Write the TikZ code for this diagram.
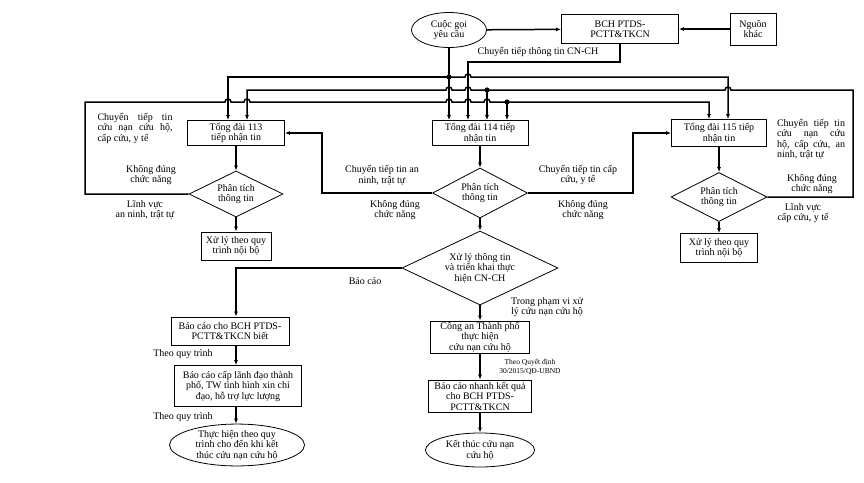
\documentclass[tikz,border=0pt]{standalone}
\usepackage{fontspec}
\setmainfont{Liberation Serif}
\usetikzlibrary{shapes.geometric,arrows.meta}

\begin{document}
\begin{tikzpicture}[x=1pt,y=-1pt,
	font=\fontsize{10}{10.5}\selectfont,
	>={Latex[length=5pt,width=4pt]},
	box/.style={draw,line width=0.8pt,align=center,inner sep=1pt},
	dia/.style={draw,diamond,aspect=2,line width=0.8pt,align=center,inner sep=0pt},
	oval/.style={draw,ellipse,line width=0.8pt,align=center,inner sep=0pt},
	lbl/.style={align=center,inner sep=0pt},
	conn/.style={line width=1.5pt}]
	\useasboundingbox (0,0) rectangle (864,482);

	% Top row
	\node[oval,minimum width=75pt,minimum height=35pt] (call) at (449,30) {Cuộc gọi\\yêu cầu};
	\node[box,minimum width=117pt,minimum height=29pt] (bch) at (620,29) {BCH PTDS-\\PCTT\&TKCN};
	\node[box,minimum width=46pt,minimum height=32pt] (other) at (753,29) {Nguồn\\khác};

	% Switchboards
	\node[box,minimum width=97pt,minimum height=25pt] (t113) at (236,133) {Tổng đài 113\\tiếp nhận tin};
	\node[box,minimum width=96pt,minimum height=25pt] (t114) at (480,133) {Tổng đài 114 tiếp\\nhận tin};
	\node[box,minimum width=95pt,minimum height=27pt] (t115) at (719,133) {Tổng đài 115 tiếp\\nhận tin};

	% Analysis
	\node[dia,minimum width=94pt,minimum height=46pt] (a113) at (236,194) {Phân tích\\thông tin};
	\node[dia,minimum width=95pt,minimum height=50pt] (a114) at (480,193) {Phân tích\\thông tin};
	\node[dia,minimum width=96pt,minimum height=49pt] (a115) at (719,197) {Phân tích\\thông tin};

	% Internal handling
	\node[box,minimum width=70pt,minimum height=28pt] (p113) at (236,246) {Xử lý theo quy\\trình nội bộ};
	\node[box,minimum width=77pt,minimum height=29pt] (p115) at (719,248) {Xử lý theo quy\\trình nội bộ};

	% Main decision
	\node[dia,minimum width=156pt,minimum height=74pt] (main) at (480,268) {Xử lý thông tin\\và triển khai thực\\hiện CN-CH};

	% Left branch
	\node[box,minimum width=118pt,minimum height=28pt] (rep) at (230,331) {Báo cáo cho BCH PTDS-\\PCTT\&TKCN biết};
	\node[box,minimum width=127pt,minimum height=41pt] (lead) at (238,386) {Báo cáo cấp lãnh đạo thành\\phố, TW tình hình xin chỉ\\đạo, hỗ trợ lực lượng};
	\node[oval,minimum width=135pt,minimum height=40pt] (done) at (237,445) {Thực hiện theo quy\\trình cho đến khi kết\\thúc cứu nạn cứu hộ};

	% Middle branch
	\node[box,minimum width=99pt,minimum height=32pt] (police) at (480,337) {Công an Thành phố\\thực hiện\\cứu nạn cứu hộ};
	\node[box,minimum width=103pt,minimum height=32pt] (quick) at (480,396) {Báo cáo nhanh kết quả\\cho BCH PTDS-\\PCTT\&TKCN};
	\node[oval,minimum width=109pt,minimum height=34pt] (fin) at (480,450) {Kết thúc cứu nạn\\cứu hộ};

	% Labels
	\node[lbl] (l1) at (538,52) {Chuyển tiếp thông tin CN-CH};
	\node[lbl,text width=75pt,align=justify] (l2) at (135,128) {Chuyển tiếp tin\linebreak cứu nạn cứu hộ,\linebreak cấp cứu, y tế};
	\node[lbl] (l3) at (151,175) {Không đúng\\chức năng};
	\node[lbl] (l4) at (145,210) {Lĩnh vực\\an ninh, trật tự};
	\node[lbl] (l5) at (382,175) {Chuyển tiếp tin an\\ninh, trật tự};
	\node[lbl] (l6) at (395,210) {Không đúng\\chức năng};
	\node[lbl] (l7) at (578,175) {Chuyển tiếp tin cấp\\cứu, y tế};
	\node[lbl] (l8) at (583,210) {Không đúng\\chức năng};
	\node[lbl,text width=68pt,align=justify] (l9) at (811,139) {Chuyển tiếp tin\linebreak cứu nạn cứu\linebreak hộ, cấp cứu, an\linebreak ninh, trật tự};
	\node[lbl] (l10) at (812,184) {Không đúng\\chức năng};
	\node[lbl] (l11) at (803,213) {Lĩnh vực\\cấp cứu, y tế};
	\node[lbl] (l12) at (365,281) {Báo cáo};
	\node[lbl] (l13) at (183,354) {Theo quy trình};
	\node[lbl] (l14) at (183,417) {Theo quy trình};
	\node[lbl] (l15) at (547,307) {Trong phạm vi xử\\lý cứu nạn cứu hộ};
	\node[lbl,font=\fontsize{7.5}{8.5}\selectfont] (l16) at (530,367) {Theo Quyết định\\30/2015/QĐ-UBND};

	% Bends and bus points
	\coordinate (k1) at (468,62);
	\coordinate (k2) at (322,133);
	\coordinate (k3) at (633,133);
	\coordinate (k4) at (236,0);
	\coordinate (b1l) at (228,77);
	\coordinate (b1c) at (449,77);
	\coordinate (b1r) at (728,77);
	\coordinate (b2r) at (853,90);
	\coordinate (b2d) at (487,90);
	\coordinate (b2l) at (247,90);
	\coordinate (b3l) at (85,102);
	\coordinate (b3d) at (507,102);
	\coordinate (b3r) at (709,102);

	% Top arrows
	\draw[conn,->] (call) -- (bch);
	\draw[conn,->] (other) -- (bch);
	\draw[conn,->] (call.south) -- (call.south |- t114.north);
	\draw[conn,->] (bch.south) |- (k1) -- (k1 |- t114.north);

	% Bus 1
	\draw[conn,->] (b1c) -- (b1l) -- (b1l |- t113.north);
	\draw[conn,->] (b1c) -- (465,77) arc[start angle=180,end angle=360,radius=3]
		-- (b1r) -- (b1r |- t115.north);
	\fill (b1c) circle[radius=2.6];

	% Bus 2 (from 115)
	\draw[conn,->] (a115.east) -| (b2r) -- (731,90) arc[start angle=0,end angle=-180,radius=3]
		-- (b2d) -- (471,90) arc[start angle=0,end angle=-180,radius=3]
		-- (452,90) arc[start angle=0,end angle=-180,radius=3]
		-- (b2l) -- (b2l |- t113.north);
	\draw[conn,->] (b2d) -- (b2d |- t114.north);
	\fill (b2d) circle[radius=2.6];

	% Bus 3 (from 113)
	\draw[conn,->] (a113.west) -| (b3l) -- (225,102) arc[start angle=180,end angle=360,radius=3]
		-- (244,102) arc[start angle=180,end angle=360,radius=3]
		-- (446,102) arc[start angle=180,end angle=360,radius=3]
		-- (465,102) arc[start angle=180,end angle=360,radius=3]
		-- (484,102) arc[start angle=180,end angle=360,radius=3]
		-- (b3r) -- (b3r |- t115.north);
	\draw[conn,->] (b3d) -- (b3d |- t114.north);
	\fill (b3d) circle[radius=2.6];

	% Columns
	\draw[conn,->] (t113) -- (a113);
	\draw[conn,->] (a113) -- (p113);
	\draw[conn,->] (t114) -- (a114);
	\draw[conn,->] (a114) -- (main);
	\draw[conn,->] (t115) -- (a115);
	\draw[conn,->] (a115) -- (p115);
	\draw[conn,->] (a114.west) -| (k2) -- (t113.east);
	\draw[conn,->] (a114.east) -| (k3) -- (t115.west);

	% Lower branches
	\draw[conn,->] (main.west) -| (k4 |- rep.north);
	\draw[conn,->] (rep.south -| k4) -- (lead.north -| k4);
	\draw[conn,->] (lead.south -| k4) -- (done.north -| k4);
	\draw[conn,->] (main) -- (police);
	\draw[conn,->] (police) -- (quick);
	\draw[conn,->] (quick) -- (fin);
\end{tikzpicture}
\end{document}
